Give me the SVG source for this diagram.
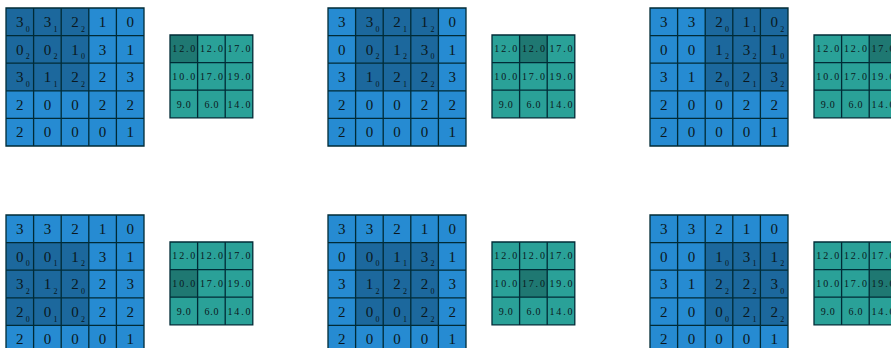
<svg xmlns="http://www.w3.org/2000/svg" xmlns:xlink="http://www.w3.org/1999/xlink" width="891" height="348" viewBox="0 0 891 348">
<style>
.inb{fill:#268bd2}
.outb{fill:#2aa198}
.hl{fill:#000;fill-opacity:.25}
.gl{fill:none;stroke:#002b36;stroke-width:1.3}
text{font-family:"Liberation Serif","DejaVu Serif",serif;text-anchor:middle;fill:#0a1820}
.d{font-size:15px}
.s{font-size:8px}
.o{font-size:10px}
</style>
<defs>
<path id="ing" class="gl" d="M0 0H138V138H0Z M0 27.6H138 M0 55.2H138 M0 82.8H138 M0 110.4H138 M27.6 0V138 M55.2 0V138 M82.8 0V138 M110.4 0V138"/>
<path id="outg" class="gl" d="M0 0H82.8V82.8H0Z M0 27.6H82.8 M0 55.2H82.8 M27.6 0V82.8 M55.2 0V82.8"/>
</defs>

<g id="panel1" transform="translate(6,8)">
<rect class="inb" width="138" height="138"/>
<rect class="hl" x="0" y="0" width="82.8" height="82.8"/>
<use xlink:href="#ing"/>
<text class="d" y="19"><tspan x="13.8">3</tspan><tspan x="41.4">3</tspan><tspan x="69">2</tspan><tspan x="96.6">1</tspan><tspan x="124.2">0</tspan></text>
<text class="d" y="46.6"><tspan x="13.8">0</tspan><tspan x="41.4">0</tspan><tspan x="69">1</tspan><tspan x="96.6">3</tspan><tspan x="124.2">1</tspan></text>
<text class="d" y="74.2"><tspan x="13.8">3</tspan><tspan x="41.4">1</tspan><tspan x="69">2</tspan><tspan x="96.6">2</tspan><tspan x="124.2">3</tspan></text>
<text class="d" y="101.8"><tspan x="13.8">2</tspan><tspan x="41.4">0</tspan><tspan x="69">0</tspan><tspan x="96.6">2</tspan><tspan x="124.2">2</tspan></text>
<text class="d" y="129.4"><tspan x="13.8">2</tspan><tspan x="41.4">0</tspan><tspan x="69">0</tspan><tspan x="96.6">0</tspan><tspan x="124.2">1</tspan></text>
<text class="s" y="23.8"><tspan x="21.8">0</tspan><tspan x="49.4">1</tspan><tspan x="77">2</tspan></text>
<text class="s" y="51.4"><tspan x="21.8">2</tspan><tspan x="49.4">2</tspan><tspan x="77">0</tspan></text>
<text class="s" y="79"><tspan x="21.8">0</tspan><tspan x="49.4">1</tspan><tspan x="77">2</tspan></text>
<g transform="translate(164,27)">
<rect class="outb" width="82.8" height="82.8"/>
<rect class="hl" x="0" y="0" width="27.6" height="27.6"/>
<use xlink:href="#outg"/>
<text class="o" x="13.8" y="17.3" textLength="23" lengthAdjust="spacing">12.0</text><text class="o" x="41.4" y="17.3" textLength="23" lengthAdjust="spacing">12.0</text><text class="o" x="69" y="17.3" textLength="23" lengthAdjust="spacing">17.0</text>
<text class="o" x="13.8" y="44.9" textLength="23" lengthAdjust="spacing">10.0</text><text class="o" x="41.4" y="44.9" textLength="23" lengthAdjust="spacing">17.0</text><text class="o" x="69" y="44.9" textLength="23" lengthAdjust="spacing">19.0</text>
<text class="o" x="13.8" y="72.5" textLength="14" lengthAdjust="spacing">9.0</text><text class="o" x="41.4" y="72.5" textLength="14" lengthAdjust="spacing">6.0</text><text class="o" x="69" y="72.5" textLength="23" lengthAdjust="spacing">14.0</text>
</g>
</g>

<g id="panel2" transform="translate(328,8)">
<rect class="inb" width="138" height="138"/>
<rect class="hl" x="27.6" y="0" width="82.8" height="82.8"/>
<use xlink:href="#ing"/>
<text class="d" y="19"><tspan x="13.8">3</tspan><tspan x="41.4">3</tspan><tspan x="69">2</tspan><tspan x="96.6">1</tspan><tspan x="124.2">0</tspan></text>
<text class="d" y="46.6"><tspan x="13.8">0</tspan><tspan x="41.4">0</tspan><tspan x="69">1</tspan><tspan x="96.6">3</tspan><tspan x="124.2">1</tspan></text>
<text class="d" y="74.2"><tspan x="13.8">3</tspan><tspan x="41.4">1</tspan><tspan x="69">2</tspan><tspan x="96.6">2</tspan><tspan x="124.2">3</tspan></text>
<text class="d" y="101.8"><tspan x="13.8">2</tspan><tspan x="41.4">0</tspan><tspan x="69">0</tspan><tspan x="96.6">2</tspan><tspan x="124.2">2</tspan></text>
<text class="d" y="129.4"><tspan x="13.8">2</tspan><tspan x="41.4">0</tspan><tspan x="69">0</tspan><tspan x="96.6">0</tspan><tspan x="124.2">1</tspan></text>
<text class="s" y="23.8"><tspan x="49.4">0</tspan><tspan x="77">1</tspan><tspan x="104.6">2</tspan></text>
<text class="s" y="51.4"><tspan x="49.4">2</tspan><tspan x="77">2</tspan><tspan x="104.6">0</tspan></text>
<text class="s" y="79"><tspan x="49.4">0</tspan><tspan x="77">1</tspan><tspan x="104.6">2</tspan></text>
<g transform="translate(164,27)">
<rect class="outb" width="82.8" height="82.8"/>
<rect class="hl" x="27.6" y="0" width="27.6" height="27.6"/>
<use xlink:href="#outg"/>
<text class="o" x="13.8" y="17.3" textLength="23" lengthAdjust="spacing">12.0</text><text class="o" x="41.4" y="17.3" textLength="23" lengthAdjust="spacing">12.0</text><text class="o" x="69" y="17.3" textLength="23" lengthAdjust="spacing">17.0</text>
<text class="o" x="13.8" y="44.9" textLength="23" lengthAdjust="spacing">10.0</text><text class="o" x="41.4" y="44.9" textLength="23" lengthAdjust="spacing">17.0</text><text class="o" x="69" y="44.9" textLength="23" lengthAdjust="spacing">19.0</text>
<text class="o" x="13.8" y="72.5" textLength="14" lengthAdjust="spacing">9.0</text><text class="o" x="41.4" y="72.5" textLength="14" lengthAdjust="spacing">6.0</text><text class="o" x="69" y="72.5" textLength="23" lengthAdjust="spacing">14.0</text>
</g>
</g>

<g id="panel3" transform="translate(650,8)">
<rect class="inb" width="138" height="138"/>
<rect class="hl" x="55.2" y="0" width="82.8" height="82.8"/>
<use xlink:href="#ing"/>
<text class="d" y="19"><tspan x="13.8">3</tspan><tspan x="41.4">3</tspan><tspan x="69">2</tspan><tspan x="96.6">1</tspan><tspan x="124.2">0</tspan></text>
<text class="d" y="46.6"><tspan x="13.8">0</tspan><tspan x="41.4">0</tspan><tspan x="69">1</tspan><tspan x="96.6">3</tspan><tspan x="124.2">1</tspan></text>
<text class="d" y="74.2"><tspan x="13.8">3</tspan><tspan x="41.4">1</tspan><tspan x="69">2</tspan><tspan x="96.6">2</tspan><tspan x="124.2">3</tspan></text>
<text class="d" y="101.8"><tspan x="13.8">2</tspan><tspan x="41.4">0</tspan><tspan x="69">0</tspan><tspan x="96.6">2</tspan><tspan x="124.2">2</tspan></text>
<text class="d" y="129.4"><tspan x="13.8">2</tspan><tspan x="41.4">0</tspan><tspan x="69">0</tspan><tspan x="96.6">0</tspan><tspan x="124.2">1</tspan></text>
<text class="s" y="23.8"><tspan x="77">0</tspan><tspan x="104.6">1</tspan><tspan x="132.2">2</tspan></text>
<text class="s" y="51.4"><tspan x="77">2</tspan><tspan x="104.6">2</tspan><tspan x="132.2">0</tspan></text>
<text class="s" y="79"><tspan x="77">0</tspan><tspan x="104.6">1</tspan><tspan x="132.2">2</tspan></text>
<g transform="translate(164,27)">
<rect class="outb" width="82.8" height="82.8"/>
<rect class="hl" x="55.2" y="0" width="27.6" height="27.6"/>
<use xlink:href="#outg"/>
<text class="o" x="13.8" y="17.3" textLength="23" lengthAdjust="spacing">12.0</text><text class="o" x="41.4" y="17.3" textLength="23" lengthAdjust="spacing">12.0</text><text class="o" x="69" y="17.3" textLength="23" lengthAdjust="spacing">17.0</text>
<text class="o" x="13.8" y="44.9" textLength="23" lengthAdjust="spacing">10.0</text><text class="o" x="41.4" y="44.9" textLength="23" lengthAdjust="spacing">17.0</text><text class="o" x="69" y="44.9" textLength="23" lengthAdjust="spacing">19.0</text>
<text class="o" x="13.8" y="72.5" textLength="14" lengthAdjust="spacing">9.0</text><text class="o" x="41.4" y="72.5" textLength="14" lengthAdjust="spacing">6.0</text><text class="o" x="69" y="72.5" textLength="23" lengthAdjust="spacing">14.0</text>
</g>
</g>

<g id="panel4" transform="translate(6,215)">
<rect class="inb" width="138" height="138"/>
<rect class="hl" x="0" y="27.6" width="82.8" height="82.8"/>
<use xlink:href="#ing"/>
<text class="d" y="19"><tspan x="13.8">3</tspan><tspan x="41.4">3</tspan><tspan x="69">2</tspan><tspan x="96.6">1</tspan><tspan x="124.2">0</tspan></text>
<text class="d" y="46.6"><tspan x="13.8">0</tspan><tspan x="41.4">0</tspan><tspan x="69">1</tspan><tspan x="96.6">3</tspan><tspan x="124.2">1</tspan></text>
<text class="d" y="74.2"><tspan x="13.8">3</tspan><tspan x="41.4">1</tspan><tspan x="69">2</tspan><tspan x="96.6">2</tspan><tspan x="124.2">3</tspan></text>
<text class="d" y="101.8"><tspan x="13.8">2</tspan><tspan x="41.4">0</tspan><tspan x="69">0</tspan><tspan x="96.6">2</tspan><tspan x="124.2">2</tspan></text>
<text class="d" y="129.4"><tspan x="13.8">2</tspan><tspan x="41.4">0</tspan><tspan x="69">0</tspan><tspan x="96.6">0</tspan><tspan x="124.2">1</tspan></text>
<text class="s" y="51.4"><tspan x="21.8">0</tspan><tspan x="49.4">1</tspan><tspan x="77">2</tspan></text>
<text class="s" y="79"><tspan x="21.8">2</tspan><tspan x="49.4">2</tspan><tspan x="77">0</tspan></text>
<text class="s" y="106.6"><tspan x="21.8">0</tspan><tspan x="49.4">1</tspan><tspan x="77">2</tspan></text>
<g transform="translate(164,27)">
<rect class="outb" width="82.8" height="82.8"/>
<rect class="hl" x="0" y="27.6" width="27.6" height="27.6"/>
<use xlink:href="#outg"/>
<text class="o" x="13.8" y="17.3" textLength="23" lengthAdjust="spacing">12.0</text><text class="o" x="41.4" y="17.3" textLength="23" lengthAdjust="spacing">12.0</text><text class="o" x="69" y="17.3" textLength="23" lengthAdjust="spacing">17.0</text>
<text class="o" x="13.8" y="44.9" textLength="23" lengthAdjust="spacing">10.0</text><text class="o" x="41.4" y="44.9" textLength="23" lengthAdjust="spacing">17.0</text><text class="o" x="69" y="44.9" textLength="23" lengthAdjust="spacing">19.0</text>
<text class="o" x="13.8" y="72.5" textLength="14" lengthAdjust="spacing">9.0</text><text class="o" x="41.4" y="72.5" textLength="14" lengthAdjust="spacing">6.0</text><text class="o" x="69" y="72.5" textLength="23" lengthAdjust="spacing">14.0</text>
</g>
</g>

<g id="panel5" transform="translate(328,215)">
<rect class="inb" width="138" height="138"/>
<rect class="hl" x="27.6" y="27.6" width="82.8" height="82.8"/>
<use xlink:href="#ing"/>
<text class="d" y="19"><tspan x="13.8">3</tspan><tspan x="41.4">3</tspan><tspan x="69">2</tspan><tspan x="96.6">1</tspan><tspan x="124.2">0</tspan></text>
<text class="d" y="46.6"><tspan x="13.8">0</tspan><tspan x="41.4">0</tspan><tspan x="69">1</tspan><tspan x="96.6">3</tspan><tspan x="124.2">1</tspan></text>
<text class="d" y="74.2"><tspan x="13.8">3</tspan><tspan x="41.4">1</tspan><tspan x="69">2</tspan><tspan x="96.6">2</tspan><tspan x="124.2">3</tspan></text>
<text class="d" y="101.8"><tspan x="13.8">2</tspan><tspan x="41.4">0</tspan><tspan x="69">0</tspan><tspan x="96.6">2</tspan><tspan x="124.2">2</tspan></text>
<text class="d" y="129.4"><tspan x="13.8">2</tspan><tspan x="41.4">0</tspan><tspan x="69">0</tspan><tspan x="96.6">0</tspan><tspan x="124.2">1</tspan></text>
<text class="s" y="51.4"><tspan x="49.4">0</tspan><tspan x="77">1</tspan><tspan x="104.6">2</tspan></text>
<text class="s" y="79"><tspan x="49.4">2</tspan><tspan x="77">2</tspan><tspan x="104.6">0</tspan></text>
<text class="s" y="106.6"><tspan x="49.4">0</tspan><tspan x="77">1</tspan><tspan x="104.6">2</tspan></text>
<g transform="translate(164,27)">
<rect class="outb" width="82.8" height="82.8"/>
<rect class="hl" x="27.6" y="27.6" width="27.6" height="27.6"/>
<use xlink:href="#outg"/>
<text class="o" x="13.8" y="17.3" textLength="23" lengthAdjust="spacing">12.0</text><text class="o" x="41.4" y="17.3" textLength="23" lengthAdjust="spacing">12.0</text><text class="o" x="69" y="17.3" textLength="23" lengthAdjust="spacing">17.0</text>
<text class="o" x="13.8" y="44.9" textLength="23" lengthAdjust="spacing">10.0</text><text class="o" x="41.4" y="44.9" textLength="23" lengthAdjust="spacing">17.0</text><text class="o" x="69" y="44.9" textLength="23" lengthAdjust="spacing">19.0</text>
<text class="o" x="13.8" y="72.5" textLength="14" lengthAdjust="spacing">9.0</text><text class="o" x="41.4" y="72.5" textLength="14" lengthAdjust="spacing">6.0</text><text class="o" x="69" y="72.5" textLength="23" lengthAdjust="spacing">14.0</text>
</g>
</g>

<g id="panel6" transform="translate(650,215)">
<rect class="inb" width="138" height="138"/>
<rect class="hl" x="55.2" y="27.6" width="82.8" height="82.8"/>
<use xlink:href="#ing"/>
<text class="d" y="19"><tspan x="13.8">3</tspan><tspan x="41.4">3</tspan><tspan x="69">2</tspan><tspan x="96.6">1</tspan><tspan x="124.2">0</tspan></text>
<text class="d" y="46.6"><tspan x="13.8">0</tspan><tspan x="41.4">0</tspan><tspan x="69">1</tspan><tspan x="96.6">3</tspan><tspan x="124.2">1</tspan></text>
<text class="d" y="74.2"><tspan x="13.8">3</tspan><tspan x="41.4">1</tspan><tspan x="69">2</tspan><tspan x="96.6">2</tspan><tspan x="124.2">3</tspan></text>
<text class="d" y="101.8"><tspan x="13.8">2</tspan><tspan x="41.4">0</tspan><tspan x="69">0</tspan><tspan x="96.6">2</tspan><tspan x="124.2">2</tspan></text>
<text class="d" y="129.4"><tspan x="13.8">2</tspan><tspan x="41.4">0</tspan><tspan x="69">0</tspan><tspan x="96.6">0</tspan><tspan x="124.2">1</tspan></text>
<text class="s" y="51.4"><tspan x="77">0</tspan><tspan x="104.6">1</tspan><tspan x="132.2">2</tspan></text>
<text class="s" y="79"><tspan x="77">2</tspan><tspan x="104.6">2</tspan><tspan x="132.2">0</tspan></text>
<text class="s" y="106.6"><tspan x="77">0</tspan><tspan x="104.6">1</tspan><tspan x="132.2">2</tspan></text>
<g transform="translate(164,27)">
<rect class="outb" width="82.8" height="82.8"/>
<rect class="hl" x="55.2" y="27.6" width="27.6" height="27.6"/>
<use xlink:href="#outg"/>
<text class="o" x="13.8" y="17.3" textLength="23" lengthAdjust="spacing">12.0</text><text class="o" x="41.4" y="17.3" textLength="23" lengthAdjust="spacing">12.0</text><text class="o" x="69" y="17.3" textLength="23" lengthAdjust="spacing">17.0</text>
<text class="o" x="13.8" y="44.9" textLength="23" lengthAdjust="spacing">10.0</text><text class="o" x="41.4" y="44.9" textLength="23" lengthAdjust="spacing">17.0</text><text class="o" x="69" y="44.9" textLength="23" lengthAdjust="spacing">19.0</text>
<text class="o" x="13.8" y="72.5" textLength="14" lengthAdjust="spacing">9.0</text><text class="o" x="41.4" y="72.5" textLength="14" lengthAdjust="spacing">6.0</text><text class="o" x="69" y="72.5" textLength="23" lengthAdjust="spacing">14.0</text>
</g>
</g>
</svg>
